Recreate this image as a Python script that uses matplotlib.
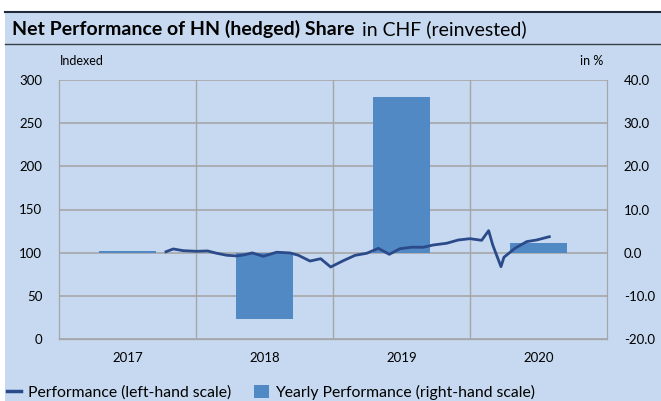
import matplotlib.pyplot as plt
from matplotlib.patches import Rectangle
from matplotlib.lines import Line2D
from matplotlib.patches import Patch

plt.rcParams['font.family'] = ['Lato', 'DejaVu Sans']

# yearly performance (right-hand scale, %)
years = ['2017', '2018', '2019', '2020']
yearly_perf = [0.4, -15.3, 36.1, 2.2]

# performance (left-hand scale, indexed), x in fractional years
perf_t = [2017.781, 2017.834, 2017.907, 2018.005, 2018.085, 2018.151, 2018.224,
          2018.297, 2018.345, 2018.411, 2018.491, 2018.589, 2018.686, 2018.747,
          2018.832, 2018.910, 2018.983, 2019.075, 2019.161, 2019.246, 2019.331,
          2019.411, 2019.489, 2019.574, 2019.659, 2019.732, 2019.830, 2019.915,
          2020.000, 2020.085, 2020.136, 2020.166, 2020.226, 2020.248, 2020.328,
          2020.414, 2020.487, 2020.579]
perf_v = [101.1, 104.3, 102.3, 101.6, 102.0, 99.3, 97.0, 96.2, 97.3, 99.7,
          95.8, 100.5, 99.7, 97.0, 90.3, 93.0, 83.4, 90.7, 96.9, 99.3, 105.0,
          98.1, 104.6, 106.3, 106.3, 108.9, 110.9, 114.7, 116.2, 114.3, 125.5,
          108.9, 83.8, 94.7, 105.1, 112.8, 114.7, 118.5]

bg = '#c6d9f0'
grid_c = '#a6a6a6'
bar_c = '#5189c5'
line_c = '#2b4a89'

W, H = 661, 401
fig = plt.figure(figsize=(W / 100, H / 100), dpi=100)
fig.patch.set_facecolor('white')

# blue panel + title band lines
fig.add_artist(Rectangle((5 / W, 0), 1 - 5 / W, 1 - 12 / H, transform=fig.transFigure,
                         facecolor=bg, edgecolor='none', zorder=-10))
fig.add_artist(Line2D([5 / W, 1], [1 - 12 / H] * 2, color='#1f2a3a', lw=1.5))
fig.add_artist(Line2D([5 / W, 1], [1 - 44 / H] * 2, color='#3a3f48', lw=1.0))

t1 = fig.text(12 / W, 1 - 29 / H, 'Net Performance of HN (hedged) Share', fontsize=14,
              fontweight='bold', va='center', ha='left', color='black')
fig.canvas.draw()
bb = t1.get_window_extent()
fig.text(bb.x1 / W + 7 / W, 1 - 29 / H, 'in CHF (reinvested)', fontsize=14,
         va='center', ha='left', color='black')

# axes: ax2 = bars (right scale, with grid), ax = line (left scale)
ax2 = fig.add_axes([59 / W, 62 / H, 548 / W, 259 / H])
ax = ax2.twinx()
ax2.set_facecolor(bg)

xc = [int(y) + 0.5 for y in years]
ax2.bar(xc, yearly_perf, width=0.42, color=bar_c, zorder=3)
ax2.set_xlim(2017, 2021)
ax2.set_ylim(-20, 40)
ax2.set_yticks(range(-20, 41, 10))
ax2.set_yticklabels(['%.1f' % v for v in range(-20, 41, 10)])
ax2.yaxis.tick_right()
ax2.set_axisbelow(True)
ax2.grid(axis='y', color=grid_c, lw=1.2)
for xv in [2018, 2019, 2020]:
    ax2.axvline(xv, color=grid_c, lw=1.0, zorder=0)
ax2.set_xticks(xc)
ax2.set_xticklabels(years)

ax.plot(perf_t, perf_v, color=line_c, lw=2, zorder=5)
ax.set_ylim(0, 300)
ax.set_yticks(range(0, 301, 50))
ax.yaxis.tick_left()
ax.set_xlim(2017, 2021)

for a in (ax, ax2):
    a.tick_params(length=0, labelsize=9.5, colors='black')
    for s in a.spines.values():
        s.set_color(grid_c)
    a.spines['top'].set_visible(False)
ax.tick_params(axis='y', pad=12)
ax2.tick_params(axis='y', pad=12)
ax2.tick_params(axis='x', pad=9)

fig.text(60 / W, 1 - 61 / H, 'Indexed', fontsize=9, va='center', ha='left')
fig.text(580 / W, 1 - 61 / H, 'in %', fontsize=9, va='center', ha='left')

handles = [Line2D([], [], color=line_c, lw=2.5),
           Patch(facecolor=bar_c, edgecolor='none')]
fig.legend(handles, ['Performance (left-hand scale)', 'Yearly Performance (right-hand scale)'],
           loc='center left', bbox_to_anchor=(1 / W, 1 - 392 / H), ncol=2, frameon=False,
           fontsize=11.3, handlelength=0.9, handletextpad=0.4, columnspacing=1.5,
           handleheight=0.9, borderaxespad=0)

fig.savefig('out.png', dpi=100, facecolor=fig.get_facecolor())
